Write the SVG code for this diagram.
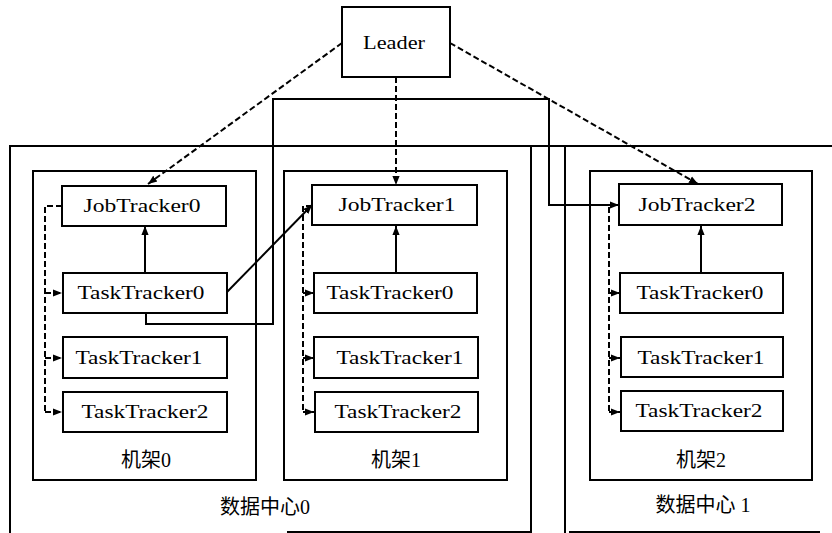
<svg xmlns="http://www.w3.org/2000/svg" width="832" height="533" viewBox="0 0 832 533">
  <style>
    .box { fill: #fff; stroke: #000; stroke-width: 2; }
    .frame { fill: none; stroke: #000; stroke-width: 2; }
    .lbl { font-family: "Liberation Serif", "DejaVu Serif", serif; font-size: 18px; fill: #000; text-anchor: middle; }
    .cn { font-family: "Liberation Serif", "Noto Sans CJK SC", serif; font-size: 20px; fill: #000; text-anchor: middle; }
    .solid { fill: none; stroke: #000; stroke-width: 2; }
    .dash { fill: none; stroke: #000; stroke-width: 2; stroke-dasharray: 6 3; }
  </style>
  <defs>
    <marker id="arrS" viewBox="0 0 10 10" refX="10" refY="5" markerWidth="9" markerHeight="9" orient="auto" markerUnits="userSpaceOnUse">
      <path d="M0,1 L10,5 L0,9 z" fill="#000"/>
    </marker>
  </defs>

  <!-- data centre frames (open at the bottom-left) -->
  <g id="dc0">
    <path class="frame" d="M10,533 V146 H565 M531,146 V532 H287"/>
    <text class="cn" x="265" y="514">数据中心0</text>
  </g>
  <g id="dc1">
    <path class="frame" d="M565,533 V146 H832 M569,532 H820"/>
    <text class="cn" x="703" y="512">数据中心 1</text>
  </g>

  <!-- racks -->
  <g id="rack0">
    <rect class="frame" x="33" y="171" width="223" height="309"/>
    <text class="cn" x="146" y="467">机架0</text>
  </g>
  <g id="rack1">
    <rect class="frame" x="284" y="171" width="223" height="309"/>
    <text class="cn" x="396" y="467">机架1</text>
  </g>
  <g id="rack2">
    <rect class="frame" x="590" y="171" width="222" height="309"/>
    <text class="cn" x="701" y="467">机架2</text>
  </g>

  <!-- connectors -->
  <g id="connectors">
    <!-- leader to job trackers -->
    <path class="dash" d="M342,43 L148,184" marker-end="url(#arrS)"/>
    <path class="dash" d="M396,77 V185" marker-end="url(#arrS)"/>
    <path class="dash" d="M450,43 L698,184" marker-end="url(#arrS)"/>

    <!-- task tracker 0 to job tracker in each rack -->
    <path class="solid" d="M145,273 V226" marker-end="url(#arrS)"/>
    <path class="solid" d="M396,273 V226" marker-end="url(#arrS)"/>
    <path class="solid" d="M701,273 V226" marker-end="url(#arrS)"/>

    <!-- cross-rack and cross-centre links -->
    <path class="solid" d="M227,292 L312,205" marker-end="url(#arrS)"/>
    <path class="solid" d="M146,313 V324 H273 V99 H549 V205 H619" marker-end="url(#arrS)"/>

    <!-- job tracker to task trackers, rack 0 -->
    <path class="dash" d="M62,206 H45 V412"/>
    <path class="dash" d="M45,293 H62" marker-end="url(#arrS)"/>
    <path class="dash" d="M45,358 H62" marker-end="url(#arrS)"/>
    <path class="dash" d="M45,412 H62" marker-end="url(#arrS)"/>

    <!-- rack 1 -->
    <path class="dash" d="M312,206 H303 V412"/>
    <path class="dash" d="M303,293 H314" marker-end="url(#arrS)"/>
    <path class="dash" d="M303,358 H314" marker-end="url(#arrS)"/>
    <path class="dash" d="M303,412 H314" marker-end="url(#arrS)"/>

    <!-- rack 2 -->
    <path class="dash" d="M609,207 V412"/>
    <path class="dash" d="M609,293 H620" marker-end="url(#arrS)"/>
    <path class="dash" d="M609,358 H620" marker-end="url(#arrS)"/>
    <path class="dash" d="M609,412 H620" marker-end="url(#arrS)"/>
  </g>

  <!-- nodes -->
  <g id="leader">
    <rect class="box" x="342" y="7" width="108" height="70"/>
    <text class="lbl" x="394" y="49" textLength="62" lengthAdjust="spacingAndGlyphs">Leader</text>
  </g>

  <g id="jt0">
    <rect class="box" x="62" y="186" width="164" height="40"/>
    <text class="lbl" x="142" y="212" textLength="117" lengthAdjust="spacingAndGlyphs">JobTracker0</text>
  </g>
  <g id="tt0-0">
    <rect class="box" x="63" y="273" width="164" height="40"/>
    <text class="lbl" x="141" y="299" textLength="127" lengthAdjust="spacingAndGlyphs">TaskTracker0</text>
  </g>
  <g id="tt0-1">
    <rect class="box" x="63" y="337" width="164" height="41"/>
    <text class="lbl" x="139" y="364" textLength="127" lengthAdjust="spacingAndGlyphs">TaskTracker1</text>
  </g>
  <g id="tt0-2">
    <rect class="box" x="63" y="392" width="164" height="40"/>
    <text class="lbl" x="145" y="418" textLength="127" lengthAdjust="spacingAndGlyphs">TaskTracker2</text>
  </g>

  <g id="jt1">
    <rect class="box" x="312" y="185" width="165" height="40"/>
    <text class="lbl" x="397" y="211" textLength="117" lengthAdjust="spacingAndGlyphs">JobTracker1</text>
  </g>
  <g id="tt1-0">
    <rect class="box" x="314" y="273" width="163" height="40"/>
    <text class="lbl" x="390" y="299" textLength="127" lengthAdjust="spacingAndGlyphs">TaskTracker0</text>
  </g>
  <g id="tt1-1">
    <rect class="box" x="314" y="337" width="164" height="41"/>
    <text class="lbl" x="400" y="364" textLength="127" lengthAdjust="spacingAndGlyphs">TaskTracker1</text>
  </g>
  <g id="tt1-2">
    <rect class="box" x="315" y="392" width="163" height="40"/>
    <text class="lbl" x="398" y="418" textLength="127" lengthAdjust="spacingAndGlyphs">TaskTracker2</text>
  </g>

  <g id="jt2">
    <rect class="box" x="619" y="184" width="163" height="41"/>
    <text class="lbl" x="697" y="211" textLength="117" lengthAdjust="spacingAndGlyphs">JobTracker2</text>
  </g>
  <g id="tt2-0">
    <rect class="box" x="620" y="273" width="163" height="40"/>
    <text class="lbl" x="700" y="299" textLength="127" lengthAdjust="spacingAndGlyphs">TaskTracker0</text>
  </g>
  <g id="tt2-1">
    <rect class="box" x="621" y="337" width="162" height="40"/>
    <text class="lbl" x="701" y="364" textLength="127" lengthAdjust="spacingAndGlyphs">TaskTracker1</text>
  </g>
  <g id="tt2-2">
    <rect class="box" x="621" y="391" width="162" height="40"/>
    <text class="lbl" x="699" y="417" textLength="127" lengthAdjust="spacingAndGlyphs">TaskTracker2</text>
  </g>
</svg>
